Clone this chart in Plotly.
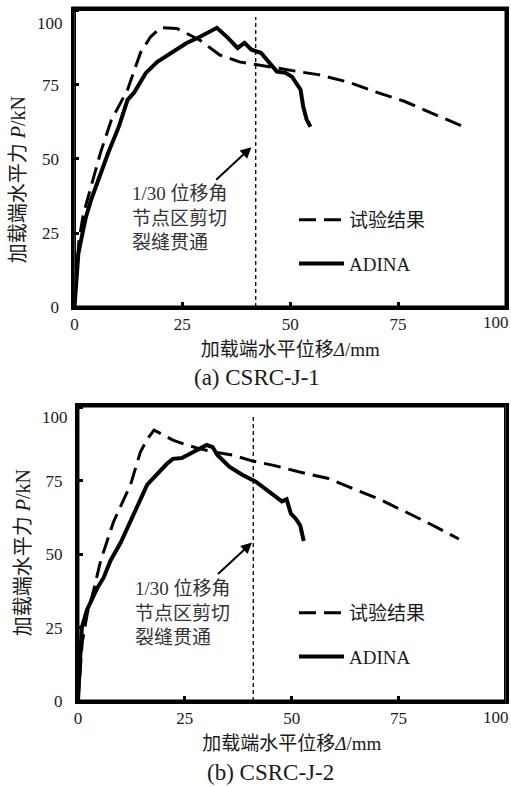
import plotly.graph_objects as go

W, H = 511, 787

# ---------------- data ----------------
X_TICKS = [0, 25, 50, 75, 100]
X_TICKTEXT = ["0", "25", "50", "75", ""]      # "100" placed separately (shifted inward as in source)
Y_TICKS = [0, 25, 50, 75, 100]
Y_TICKTEXT = ["0", "25", "50", "75", ""]
X_MAX = 100
Y_MAX = 100.5

# (a) CSRC-J-1
A_TEST_X = [0, 1.0, 2.0, 3.5, 6.0, 8.5, 12.3, 15.3, 17.6, 20.0, 23.7, 29.0, 33.6, 38.2, 42.0,
            46.6, 51.9, 56.5, 63.4, 70.3, 76.4, 82.4, 89.7]
A_TEST_Y = [0, 22, 31, 38.7, 52, 63, 73.4, 85.9, 91.2, 94.4, 94.1, 90.2, 85.2, 82.8, 81.8,
            80.8, 79.5, 78.5, 76.0, 72.4, 69.5, 65.7, 61.2]
A_FEM_X = [0, 0.5, 0.9, 2.0, 2.7, 3.9, 5.5, 7.8, 10.3, 12.3, 13.8, 16.5, 19.2, 22.9, 26.0,
           29.0, 31.4, 33.0, 35.5, 37.8, 39.4, 41.0, 43.2, 44.6, 46.9, 48.9, 50.4, 52.4,
           53.0, 53.8, 54.7]
A_FEM_Y = [0, 10, 18, 26, 30.6, 36.4, 43, 52, 61, 70, 72.4, 79, 82.8, 86.2, 89.2,
           91.2, 92.9, 94.3, 91.0, 87.5, 89.2, 86.9, 85.9, 83.5, 79.5, 79.1, 77.8, 73.4,
           67.7, 63.3, 60.9]

# (b) CSRC-J-2
B_TEST_X = [0, 1.0, 2.2, 3.5, 5.3, 8.3, 12.3, 14.6, 16.2, 17.8, 19.9, 22.2, 25.5, 28.5, 32.0,
            36.1, 40.7, 46.0, 51.6, 58.6, 63.9, 70.1, 76.4, 82.4, 89.1]
B_TEST_Y = [0, 20, 30, 36.7, 47.8, 61, 73.7, 84.8, 89.2, 92.3, 90.7, 88.9, 87.2, 85.9, 84.8,
            83.8, 81.8, 80.2, 78.1, 75.8, 72.6, 69.0, 64.6, 60.3, 55.2]
B_FEM_X = [0, 0.3, 0.9, 2.1, 4.6, 6.0, 7.6, 10.0, 13.4, 16.2, 20.8, 22.2, 24.3, 26.9, 29.0,
           30.1, 31.5, 32.6, 35.4, 38.4, 41.6, 44.7, 47.0, 47.7, 48.8, 49.8, 50.9, 52.0, 52.8]
B_FEM_Y = [0, 8, 25, 31, 38.7, 42, 47.8, 54, 64.6, 73.7, 80.8, 82.5, 82.8, 84.8, 86.5,
           87.2, 86.5, 83.8, 79.8, 77.1, 74.7, 71.4, 68.7, 68.0, 68.7, 63.8, 62.2, 59.8, 54.5]

# 1/30 drift marker lines and arrow (data coords)
DRIFT_X = [42.0, 41.0]
DRIFT_TOP = [98.0, 97.3]
ARROW_HEAD = [(41.0, 54.0), (40.7, 54.0)]
ARROW_TAIL = [(32.5, 42.5), (32.4, 42.8)]
NOTE_POS = [(12.8, 30.0), (12.8, 30.0)]

NOTE_TEXT = "1/30 位移角<br>节点区剪切<br>裂缝贯通"
LEG_TEST = "试验结果"
LEG_FEM = "ADINA"
Y_TITLE = "加载端水平力 <i>P</i>/kN"
X_TITLE = "加载端水平位移<i>Δ</i>/mm"
CAPTIONS = ["(a) CSRC-J-1", "(b) CSRC-J-2"]

FONT = "Liberation Serif, Noto Sans CJK SC, serif"
TXT = "#1a1a1a"

# ---------------- layout geometry (pixels) ----------------
ML, MR, MT, MB = 70, 2, 5, 80
PW, PH = W - ML - MR, H - MT - MB

def px(x):
    return (x - ML) / PW

def py(y):
    return (H - MB - y) / PH

panels = [
    dict(l=74.5, r=508, t=9.5, b=307, frame=(73, 509.5, 8, 308.5), leg_top=201, leg_x=295,
         ytitle=(18, 180), cap=(258, 377), x100=(498, 323), y100=(50, 23)),
    dict(l=78, r=507.5, t=406, b=701, frame=(76.5, 509, 404.5, 702.5), leg_top=594, leg_x=295,
         ytitle=(23, 553), cap=(271, 772), x100=(498, 717), y100=(55, 417)),
]

fig = go.Figure()

data = [(A_TEST_X, A_TEST_Y, A_FEM_X, A_FEM_Y), (B_TEST_X, B_TEST_Y, B_FEM_X, B_FEM_Y)]
for i, (tx, ty, fx, fy) in enumerate(data):
    xa = "x" if i == 0 else "x2"
    ya = "y" if i == 0 else "y2"
    lg = "legend" if i == 0 else "legend2"
    # plot frame along the axis extents
    fig.add_trace(go.Scatter(x=[0, X_MAX, X_MAX, 0, 0], y=[0, 0, Y_MAX, Y_MAX, 0], mode="lines",
                             xaxis=xa, yaxis=ya, showlegend=False, hoverinfo="skip",
                             cliponaxis=False, line=dict(color="black", width=3)))
    fig.add_trace(go.Scatter(x=tx, y=ty, mode="lines", xaxis=xa, yaxis=ya, name=LEG_TEST,
                             legend=lg, legendgroup=f"t{i}",
                             line=dict(color="black", width=3, dash="17px,8px")))
    fig.add_trace(go.Scatter(x=fx, y=fy, mode="lines", xaxis=xa, yaxis=ya, name=LEG_FEM,
                             legend=lg, legendgroup=f"f{i}",
                             line=dict(color="black", width=4)))
    fig.add_trace(go.Scatter(x=[DRIFT_X[i], DRIFT_X[i]], y=[0, DRIFT_TOP[i]], mode="lines",
                             xaxis=xa, yaxis=ya, showlegend=False, hoverinfo="skip",
                             line=dict(color="black", width=1.3, dash="4px,3px")))

axis_common = dict(showline=True, linewidth=3, linecolor="black", mirror=True,
                   ticks="inside", ticklen=5, tickwidth=3, tickcolor="black",
                   showgrid=False, zeroline=False,
                   tickfont=dict(family=FONT, size=17, color=TXT))

layout = dict(width=W, height=H, margin=dict(l=ML, r=MR, t=MT, b=MB),
              plot_bgcolor="white", paper_bgcolor="white",
              font=dict(family=FONT, color=TXT), annotations=[], shapes=[])

for i, p in enumerate(panels):
    sfx = "" if i == 0 else "2"
    layout["xaxis" + sfx] = dict(axis_common, domain=[px(p["l"]), px(p["r"])],
                                 range=[0, X_MAX], tickvals=X_TICKS, ticktext=X_TICKTEXT,
                                 anchor="y" + sfx,
                                 title=dict(text=X_TITLE, standoff=10,
                                            font=dict(family=FONT, size=19, color=TXT)))
    layout["yaxis" + sfx] = dict(axis_common, domain=[py(p["b"]), py(p["t"])],
                                 range=[0, Y_MAX], tickvals=Y_TICKS, ticktext=Y_TICKTEXT,
                                 ticklabelstandoff=9, anchor="x" + sfx)
    lg = "legend" if i == 0 else "legend2"
    layout[lg] = dict(x=px(p["leg_x"]), y=py(p["leg_top"]), xanchor="left", yanchor="top",
                      bgcolor="rgba(0,0,0,0)", itemwidth=45, tracegroupgap=16,
                      font=dict(family=FONT, size=19, color=TXT))
    fl, fr, ft, fb = p["frame"]
    layout["shapes"].append(dict(type="rect", xref="paper", yref="paper",
                                 x0=px(fl), x1=px(fr), y0=py(fb), y1=py(ft), layer="above",
                                 line=dict(color="black", width=3)))

xrefs = ["x", "x2"]
yrefs = ["y", "y2"]
anns = []
for i, p in enumerate(panels):
    anns.append(dict(xref=xrefs[i], yref=yrefs[i], x=ARROW_HEAD[i][0], y=ARROW_HEAD[i][1],
                     axref=xrefs[i], ayref=yrefs[i], ax=ARROW_TAIL[i][0], ay=ARROW_TAIL[i][1],
                     text="", showarrow=True, arrowhead=2, arrowsize=1.1, arrowwidth=2,
                     arrowcolor="black"))
    anns.append(dict(xref=xrefs[i], yref=yrefs[i], x=NOTE_POS[i][0], y=NOTE_POS[i][1],
                     text=NOTE_TEXT, showarrow=False, xanchor="left", yanchor="middle",
                     align="left", font=dict(family=FONT, size=19, color="#333")))
    anns.append(dict(xref="paper", yref="paper", x=px(p["ytitle"][0]), y=py(p["ytitle"][1]),
                     text=Y_TITLE, textangle=-90, showarrow=False, xanchor="center",
                     yanchor="middle", font=dict(family=FONT, size=20, color=TXT)))
    anns.append(dict(xref="paper", yref="paper", x=px(p["cap"][0]), y=py(p["cap"][1]),
                     text=CAPTIONS[i], showarrow=False, xanchor="center", yanchor="middle",
                     font=dict(family=FONT, size=23, color=TXT)))
    anns.append(dict(xref="paper", yref="paper", x=px(p["x100"][0]), y=py(p["x100"][1]),
                     text=str(X_TICKS[-1]), showarrow=False, xanchor="center", yanchor="middle",
                     font=dict(family=FONT, size=17, color=TXT)))
    anns.append(dict(xref="paper", yref="paper", x=px(p["y100"][0]), y=py(p["y100"][1]),
                     text=str(Y_TICKS[-1]), showarrow=False, xanchor="center", yanchor="middle",
                     font=dict(family=FONT, size=17, color=TXT)))
layout["annotations"] = anns

fig.update_layout(**layout)
fig.write_html("out.html")
